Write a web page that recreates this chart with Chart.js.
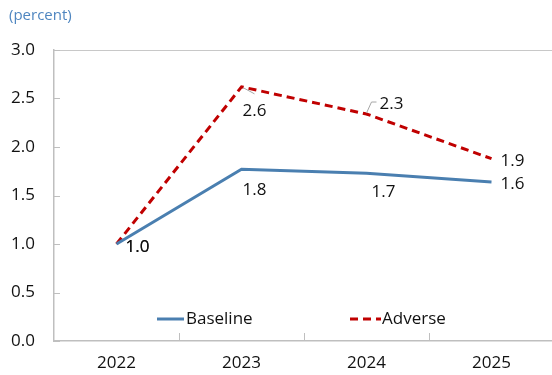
<!DOCTYPE html>
<html>
<head>
<meta charset="utf-8">
<script src="https://cdn.jsdelivr.net/npm/chart.js@4.4.1/dist/chart.umd.min.js"></script>
<style>
  html, body { margin: 0; padding: 0; background: #fff; overflow: hidden; }
  #wrap { width: 556px; height: 375px; }
</style>
</head>
<body>
<div id="wrap"><canvas id="scenarioChart" width="556" height="375"></canvas></div>
<script>
// categories and series
const years = ['2022', '2023', '2024', '2025'];
const baseline = [1.0, 1.77, 1.73, 1.64];
const adverse = [1.0, 2.62, 2.34, 1.88];
const yTicks = [0, 0.5, 1.0, 1.5, 2.0, 2.5, 3.0];

const FONT = '"Open Sans", "Noto Sans", sans-serif';

// where each data label sits relative to its point
const labelOffsets = {
  0: [[9, 3], [1, 21], [5, 19], [9, 2]],
  1: [[9, 3], [1, 24], [13, -10], [9, 3]]
};

const extras = {
  id: 'extras',
  afterDraw(chart) {
    const { ctx, chartArea: a, scales } = chart;
    ctx.save();

    // top frame line
    ctx.strokeStyle = '#c8c8c8';
    ctx.lineWidth = 1;
    ctx.beginPath();
    ctx.moveTo(a.left, a.top + 0.5);
    ctx.lineTo(a.right, a.top + 0.5);
    ctx.stroke();

    // inward tick marks
    ctx.strokeStyle = '#bfbfbf';
    yTicks.forEach(v => {
      const y = Math.round(scales.y.getPixelForValue(v)) + 0.5;
      ctx.beginPath();
      ctx.moveTo(a.left, y);
      ctx.lineTo(a.left + 6, y);
      ctx.stroke();
    });
    for (let i = 1; i < years.length; i++) {
      const x = Math.round((scales.x.getPixelForValue(i - 1) + scales.x.getPixelForValue(i)) / 2) + 0.5;
      ctx.beginPath();
      ctx.moveTo(x, a.bottom);
      ctx.lineTo(x, a.bottom - 8);
      ctx.stroke();
    }

    // leader lines for two labels
    ctx.strokeStyle = '#a6a6a6';
    const p23 = chart.getDatasetMeta(1).data[1];
    ctx.beginPath();
    ctx.moveTo(p23.x + 2, p23.y + 1);
    ctx.lineTo(p23.x + 13, p23.y + 7);
    ctx.stroke();
    const p24 = chart.getDatasetMeta(1).data[2];
    ctx.beginPath();
    ctx.moveTo(p24.x, p24.y - 1);
    ctx.lineTo(p24.x + 5, p24.y - 12);
    ctx.lineTo(p24.x + 10, p24.y - 12);
    ctx.stroke();

    // data labels
    ctx.fillStyle = '#111';
    ctx.font = '17px ' + FONT;
    ctx.textBaseline = 'middle';
    ctx.textAlign = 'left';
    chart.data.datasets.forEach((ds, di) => {
      chart.getDatasetMeta(di).data.forEach((pt, i) => {
        const [dx, dy] = labelOffsets[di][i];
        ctx.fillText(ds.data[i].toFixed(1), pt.x + dx, pt.y + dy);
      });
    });

    // legend inside the plot
    const legendPos = [[157, 319], [350, 319]];
    chart.data.datasets.forEach((ds, di) => {
      const [lx, ly] = legendPos[di];
      ctx.strokeStyle = ds.borderColor;
      ctx.lineWidth = 3;
      ctx.setLineDash(ds.borderDash || []);
      ctx.beginPath();
      ctx.moveTo(lx, ly);
      ctx.lineTo(lx + (di === 0 ? 27 : 31), ly);
      ctx.stroke();
      ctx.setLineDash([]);
      ctx.fillStyle = '#111';
      ctx.fillText(ds.label, lx + (di === 0 ? 29 : 32), ly);
    });

    // unit note
    ctx.fillStyle = '#4f86c0';
    ctx.font = '15px ' + FONT;
    ctx.fillText('(percent)', 9, 16);

    ctx.restore();
  }
};

const ctx = document.getElementById('scenarioChart').getContext('2d');
const scenarioChart = new Chart(ctx, {
  type: 'line',
  data: {
    labels: years,
    datasets: [{
      label: 'Baseline',
      data: baseline,
      borderColor: '#4a7fb0',
      borderWidth: 3,
      pointRadius: 0,
      tension: 0,
      fill: false
    }, {
      label: 'Adverse',
      data: adverse,
      borderColor: '#c00000',
      borderWidth: 3,
      borderDash: [8, 5],
      pointRadius: 0,
      tension: 0,
      fill: false
    }]
  },
  options: {
    responsive: false,
    animation: false,
    devicePixelRatio: 1,
    layout: { padding: { top: 50, left: 0, right: 2, bottom: 0 } },
    plugins: {
      legend: { display: false },
      tooltip: { enabled: false }
    },
    scales: {
      x: {
        offset: true,
        grid: { display: false, drawTicks: false },
        border: { display: true, color: '#bfbfbf', width: 1.5 },
        ticks: { color: '#111', font: { size: 17, family: FONT }, padding: 12, maxRotation: 0 },
        afterFit: s => { s.height = 34; }
      },
      y: {
        min: 0,
        max: 3,
        grid: { display: false, drawTicks: false },
        border: { display: true, color: '#bfbfbf', width: 1.5 },
        ticks: {
          stepSize: 0.5,
          color: '#111',
          font: { size: 17, family: FONT },
          padding: 19,
          callback: v => v.toFixed(1)
        },
        afterFit: s => { s.width = 54; }
      }
    }
  },
  plugins: [extras]
});
</script>
</body>
</html>
